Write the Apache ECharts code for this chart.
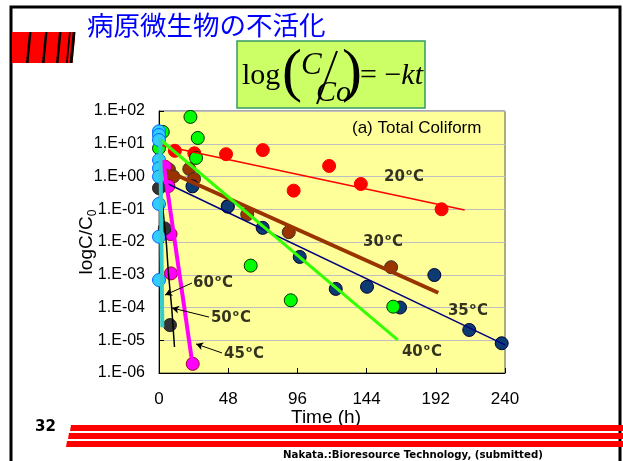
<!DOCTYPE html>
<html>
<head>
<meta charset="utf-8">
<script src="https://cdn.jsdelivr.net/npm/echarts@6/dist/echarts.min.js"></script>
<style>
html,body{margin:0;padding:0;background:#fff;}
#main{width:623px;height:461px;}
</style>
</head>
<body>
<div id="main"></div>
<script>
// ---- data (time in h, C/C0) ----
const xTicks = [0, 48, 96, 144, 192, 240];
const yTickLabels = ['1.E-06','1.E-05','1.E-04','1.E-03','1.E-02','1.E-01','1.E+00','1.E+01','1.E+02'];

// 20°C
const t20 = [11, 24.5, 46.5, 72, 118, 93.4, 140, 196];
const c20 = [6.1, 5.1, 4.8, 6.4, 2.1, 0.37, 0.59, 0.1];
const fit20T = [0.7, 212];
const fit20C = [9.2, 0.095];
// 30°C
const t30 = [6.9, 9.9, 21, 24.3, 47.7, 61.2, 90, 161];
const c30 = [1.64, 1.0, 1.7, 0.84, 0.126, 0.070, 0.020, 0.0017];
const fit30T = [3, 193.7];
const fit30C = [1.66, 2.83e-4];
// 35°C
const t35 = [23.2, 47.7, 71.9, 97.6, 122.6, 144.3, 167.2, 191, 215.2, 237.7];
const c35 = [0.50, 0.12, 0.027, 0.0035, 3.7e-4, 4.3e-4, 1.0e-4, 9.8e-4, 2.06e-5, 8.1e-6];
const fit35T = [6.4, 240];
const fit35C = [0.59, 7.2e-6];
// 40°C
const t40 = [0, 2.6, 21.8, 26.9, 25.7, 63.6, 91.4, 162.5];
const c40 = [7.3, 23, 66, 15, 3.7, 0.0019, 1.66e-4, 1.06e-4];
const fit40T = [1.2, 165.6];
const fit40C = [13, 1.02e-5];
// 45°C
const t45 = [4.2, 6.5, 8, 8.3, 23.4];
const c45 = [2.0, 0.51, 0.0175, 0.0011, 1.9e-6];
const fit45T = [2.8, 23.2];
const fit45C = [3.19, 1.88e-6];
// 50°C
const t50 = [0, 4, 7.6];
const c50 = [0.44, 0.026, 2.9e-5];
const fit50T = [1.0, 2.1, 5.2, 6.5, 8.8, 10.75];
const fit50C = [6.4, 0.19, 0.0081, 0.00113, 1.0e-4, 6.2e-6];
// 60°C
const t60 = [0, 0, 0, 0, 0, 0, 0, 0, 0];
const c60 = [24, 18.5, 13, 3.2, 1.78, 0.99, 0.145, 0.0145, 6.9e-4];
const fit60T = [0.9, 2.3];
const fit60C = [15, 2.5e-5];

// temperature labels [t, C/C0, temperature]
const labT = [170, 155.4, 214.3, 182.4, 37.5, 49.9, 59];
const labC = [0.966, 0.01, 7.8e-5, 4.4e-6, 5.6e-4, 4.8e-5, 3.8e-6];
const labText = ['20', '30', '35', '40', '60', '50', '45'];
// arrows [from t, from C, to t, to C]
const arrowFromT = [22.9, 34.7, 43.7];
const arrowFromC = [5.6e-4, 5.1e-5, 4.1e-6];
const arrowToT = [4.2, 9, 25.7];
const arrowToC = [2.4e-4, 9.7e-5, 7.7e-6];

const zip = (a, b) => a.map((v, i) => [v, b[i]]);

const chart = echarts.init(document.getElementById('main'), null, {renderer: 'canvas'});

function scatter(name, t, c, fill, border) {
  return {
    name, type: 'scatter', data: zip(t, c), symbol: 'circle', symbolSize: 13,
    itemStyle: {color: fill, borderColor: border, borderWidth: 1, opacity: 1},
    emphasis: {disabled: true}
  };
}
function fit(name, t, c, color, width) {
  return {
    name, type: 'line', data: zip(t, c), showSymbol: false, symbol: 'none',
    lineStyle: {color, width}, emphasis: {disabled: true}
  };
}

const series = [
  scatter('20', t20, c20, '#FF0000', '#FF0000'),
  fit('f20', fit20T, fit20C, '#FF0000', 1.5),
  scatter('30', t30, c30, '#993300', '#333333'),
  fit('f30', fit30T, fit30C, '#993300', 4),
  scatter('35', t35, c35, '#0B3B70', '#000033'),
  fit('f35', fit35T, fit35C, '#000080', 1.5),
  scatter('40', t40, c40, '#00FF00', '#003300'),
  fit('f40', fit40T, fit40C, '#33FF00', 3),
  scatter('45', t45, c45, '#FF00FF', '#990033'),
  fit('f45', fit45T, fit45C, '#FF00FF', 4),
  scatter('50', t50, c50, '#333333', '#222222'),
  fit('f50', fit50T, fit50C, '#000000', 1.5),
  scatter('60', t60, c60, '#33CCFF', '#0066FF'),
  fit('f60', fit60T, fit60C, '#33CCCC', 4),
  {
    name: 'labels', type: 'scatter', symbolSize: 0, silent: true,
    data: labT.map((t, i) => ({value: [t, labC[i]], name: labText[i]})),
    label: {
      show: true, position: 'inside',
      formatter: p => '{b|' + p.name + '}{s|o}{b|C}',
      rich: {
        b: {fontFamily: 'DejaVu Sans', fontWeight: 'bold', fontSize: 15, color: '#000', lineHeight: 18},
        s: {fontFamily: 'DejaVu Sans', fontWeight: 'bold', fontSize: 9, color: '#000', verticalAlign: 'top', lineHeight: 18, padding: [0, 1, 6, 1]}
      }
    },
    markLine: {
      silent: true, symbol: ['none', 'arrow'], symbolSize: [6, 7],
      label: {show: false},
      lineStyle: {color: '#000', width: 1, type: 'solid'},
      data: arrowFromT.map((t, i) => [{coord: [t, arrowFromC[i]]}, {coord: [arrowToT[i], arrowToC[i]]}])
    }
  }
];

const option = {
  animation: false,
  backgroundColor: '#ffffff',
  grid: {left: 159, right: 118, top: 111, bottom: 88, show: true, backgroundColor: '#FFFF99', borderColor: '#555555', borderWidth: 1},
  xAxis: {
    type: 'value', min: 0, max: 240, interval: 48,
    name: 'Time (h)', nameLocation: 'middle', nameGap: 35, nameMoveOverlap: false,
    nameTextStyle: {fontFamily: 'Liberation Sans', fontSize: 19, color: '#000', padding: [0, 12, 0, 0]},
    axisLine: {show: true, lineStyle: {color: '#000', width: 1}},
    axisTick: {show: true, inside: true, length: 5, lineStyle: {color: '#000'}},
    axisLabel: {fontFamily: 'Liberation Sans', fontSize: 17, color: '#000', margin: 18,
      formatter: v => (xTicks.indexOf(v) >= 0 ? String(v) : '')},
    splitLine: {show: false}
  },
  yAxis: {
    type: 'log', logBase: 10, min: 1e-6, max: 100, interval: 1, splitNumber: 8,
    name: '{a|logC/C}{s|0}', nameLocation: 'middle', nameGap: 60, nameRotate: 90, nameMoveOverlap: false,
    nameTextStyle: {
      rich: {
        a: {fontFamily: 'Liberation Sans', fontSize: 19, color: '#000', lineHeight: 24},
        s: {fontFamily: 'Liberation Sans', fontSize: 12, color: '#000', verticalAlign: 'bottom', lineHeight: 24, padding: [6, 0, 0, 0]}
      }
    },
    axisLine: {show: true, lineStyle: {color: '#000', width: 1}},
    axisTick: {show: true, inside: true, length: 5, lineStyle: {color: '#000'}},
    axisLabel: {fontFamily: 'Liberation Sans', fontSize: 16, color: '#000', margin: 14,
      formatter: v => {
        const e = Math.round(Math.log10(v));
        return yTickLabels[e + 6];
      }},
    splitLine: {show: true, lineStyle: {color: '#BFBFBF', width: 1}}
  },
  series,
  graphic: [
    // slide frame
    {type: 'rect', shape: {x: 11, y: 7, width: 609, height: 480}, style: {fill: 'none', stroke: '#000', lineWidth: 3}, z: 100},
    // left red block
    {type: 'rect', shape: {x: 12, y: 32, width: 63, height: 31}, style: {fill: '#FF0000'}, z: 101},
    {type: 'polygon', shape: {points: [[29, 32], [31.5, 32], [28.5, 63], [26, 63]]}, style: {fill: '#000'}, z: 102},
    {type: 'polygon', shape: {points: [[45, 32], [47.5, 32], [44.5, 63], [42, 63]]}, style: {fill: '#000'}, z: 102},
    {type: 'polygon', shape: {points: [[59, 32], [61.5, 32], [58.5, 63], [56, 63]]}, style: {fill: '#000'}, z: 102},
    {type: 'polygon', shape: {points: [[69, 32], [70.7, 32], [67.7, 63], [66, 63]]}, style: {fill: '#000'}, z: 102},
    {type: 'polygon', shape: {points: [[72.7, 32], [75.5, 32], [72.5, 63], [69.7, 63]]}, style: {fill: '#000'}, z: 102},
    {type: 'polygon', shape: {points: [[72.5, 63], [76, 63], [76, 30], [75.5, 32]]}, style: {fill: '#fff'}, z: 101},
    // title
    {type: 'text', x: 87, y: 25, style: {text: '病原微生物の不活化', fontFamily: 'Noto Sans CJK JP', fontSize: 26.5, fill: '#0000FF', textVerticalAlign: 'middle'}, z: 101},
    // formula box
    {type: 'rect', shape: {x: 237, y: 41, width: 188, height: 67}, style: {fill: '#CCFF66', stroke: '#339966', lineWidth: 1.5}, z: 101},
    {type: 'text', x: 242, y: 76, style: {text: 'log', fontFamily: 'Liberation Serif', fontSize: 30, fill: '#000', textVerticalAlign: 'middle'}, z: 102},
    {type: 'text', x: 282, y: 74, style: {text: '(', fontFamily: 'Liberation Serif', fontSize: 60, fill: '#000', textVerticalAlign: 'middle'}, z: 102},
    {type: 'text', x: 301, y: 66, style: {text: 'C', fontFamily: 'Liberation Serif', fontStyle: 'italic', fontSize: 31, fill: '#000', textVerticalAlign: 'middle'}, z: 102},
    {type: 'line', shape: {x1: 337, y1: 51, x2: 317, y2: 104}, style: {stroke: '#000', lineWidth: 2}, z: 102},
    {type: 'text', x: 316, y: 93, style: {text: 'Co', fontFamily: 'Liberation Serif', fontStyle: 'italic', fontSize: 30, fill: '#000', textVerticalAlign: 'middle'}, z: 102},
    {type: 'text', x: 342, y: 74, style: {text: ')', fontFamily: 'Liberation Serif', fontSize: 60, fill: '#000', textVerticalAlign: 'middle'}, z: 102},
    {type: 'text', x: 360, y: 76, style: {text: '{n|= −}{i|kt}', fontFamily: 'Liberation Serif', fontSize: 30, fill: '#000', textVerticalAlign: 'middle',
      rich: {n: {fontFamily: 'Liberation Serif', fontSize: 30, fill: '#000'}, i: {fontFamily: 'Liberation Serif', fontStyle: 'italic', fontSize: 30, fill: '#000'}}}, z: 102},
    // panel title
    {type: 'text', x: 352, y: 128, style: {text: '(a) Total Coliform', fontFamily: 'Liberation Sans', fontSize: 17, fill: '#000', textVerticalAlign: 'middle'}, z: 102},
    // page number
    {type: 'text', x: 35, y: 427, style: {text: '32', fontFamily: 'DejaVu Sans', fontWeight: 'bold', fontSize: 15, fill: '#000', textVerticalAlign: 'middle'}, z: 102},
    // bottom red stripes
    {type: 'polygon', shape: {points: [[71, 425], [623, 425], [623, 431], [70, 431]]}, style: {fill: '#FF0000'}, z: 101},
    {type: 'polygon', shape: {points: [[69, 433], [623, 433], [623, 439], [68, 439]]}, style: {fill: '#FF0000'}, z: 101},
    {type: 'polygon', shape: {points: [[67, 441], [623, 441], [623, 447], [66, 447]]}, style: {fill: '#FF0000'}, z: 101},
    // citation
    {type: 'text', x: 283, y: 455, style: {text: 'Nakata.:Bioresource Technology, (submitted)', fontFamily: 'DejaVu Sans', fontWeight: 'bold', fontSize: 10.2, fill: '#000', textVerticalAlign: 'middle'}, z: 102}
  ]
};
chart.setOption(option);
</script>
</body>
</html>
